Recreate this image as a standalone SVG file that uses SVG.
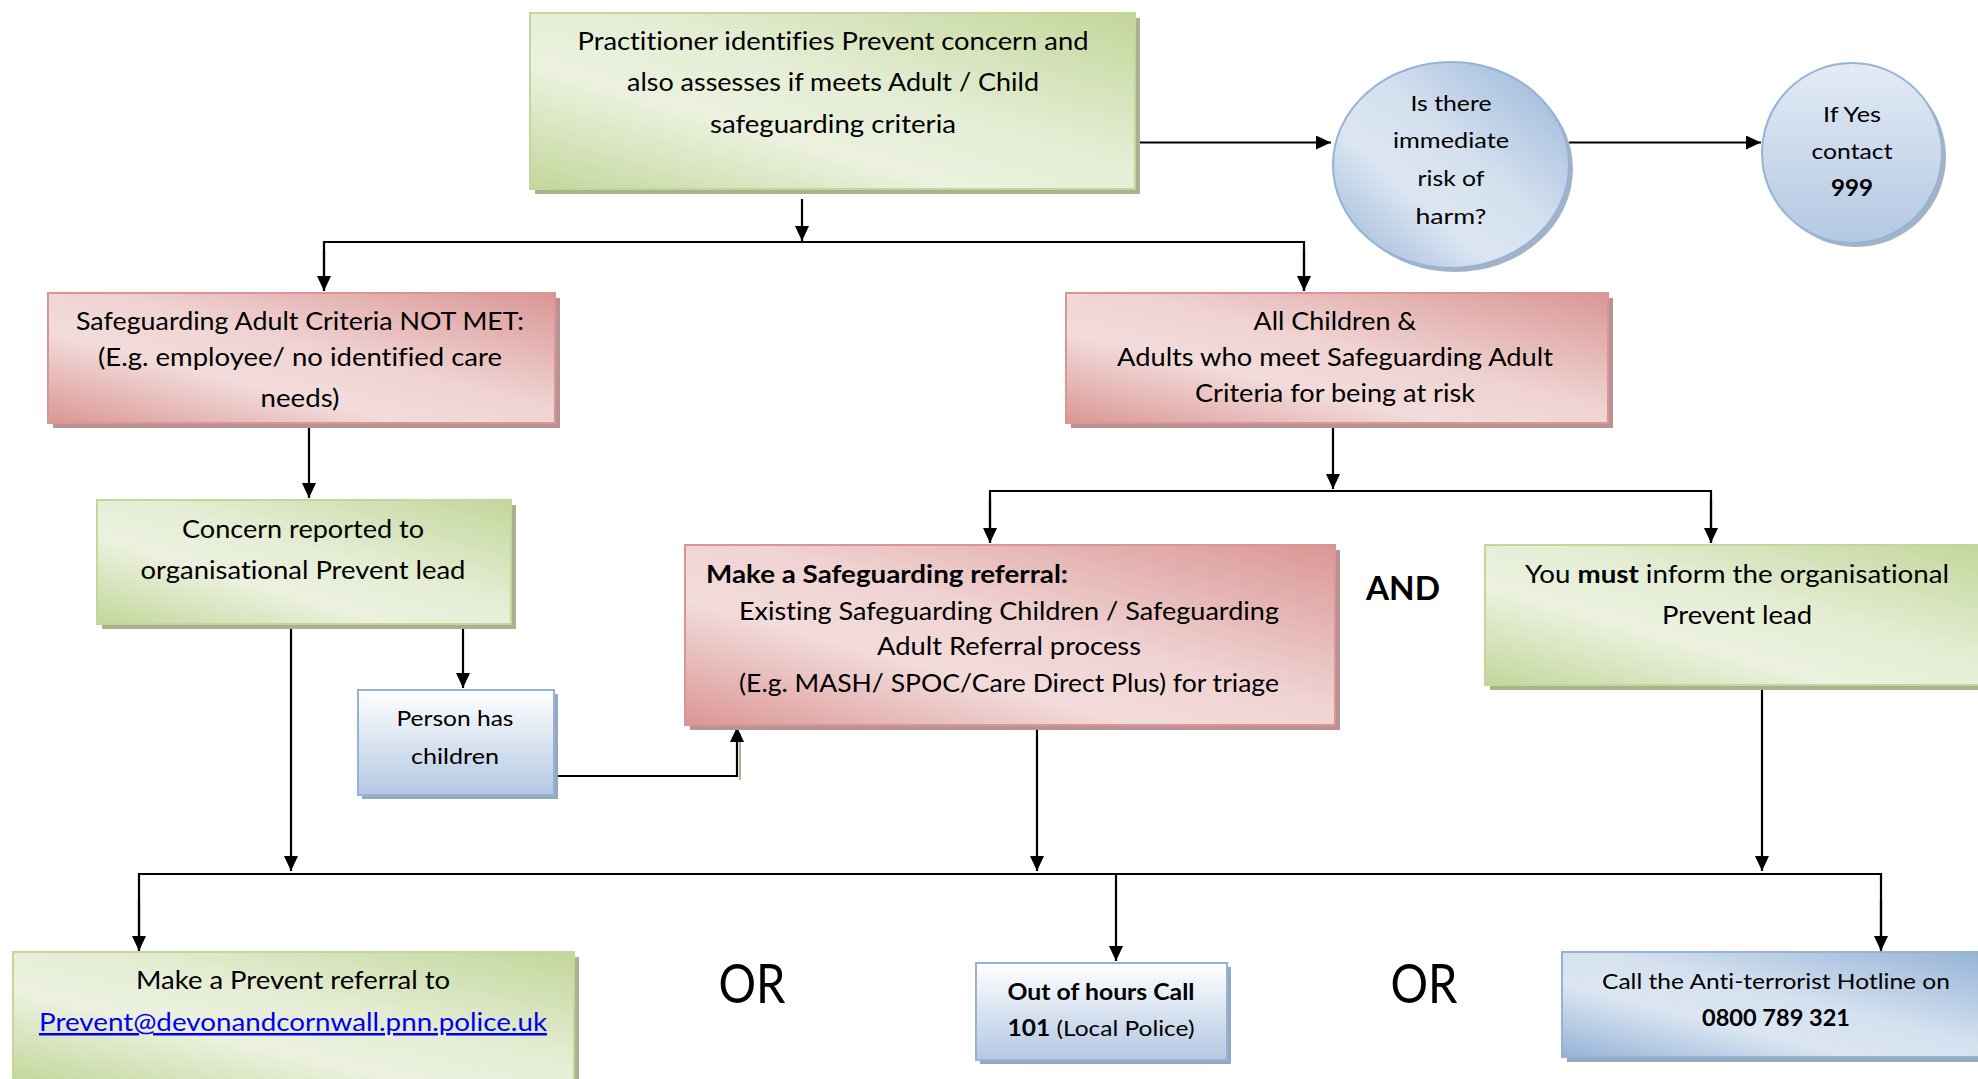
<svg xmlns="http://www.w3.org/2000/svg" width="1978" height="1079" viewBox="0 0 1978 1079">
<defs>
<style>
text{font-family:Lato,"Liberation Sans",sans-serif;fill:#000;text-anchor:middle;font-variant-ligatures:none}
.t25{font-size:25px}
.t22{font-size:22px}
.b{font-weight:bold}
.link{fill:#0000ee;text-decoration:underline}
.or{font-size:54px}
.conn{fill:none;stroke:#000;stroke-width:2.2}
.gs{fill:#a9b28f}
.rs{fill:#b99293}
.bs{fill:#97a7bd}
.g{fill:url(#gG);stroke:#c3d69b;stroke-width:2}
.r{fill:url(#gR);stroke:#d99694;stroke-width:2}
.bl{fill:url(#gB);stroke:#95b3d7;stroke-width:2}
.bv{fill:url(#gBV);stroke:#95b3d7;stroke-width:2}
</style>
<linearGradient id="gG" x1="0" y1="1" x2="1" y2="0">
<stop offset="0" stop-color="#c3d69b"/>
<stop offset="0.35" stop-color="#ebf1de"/>
<stop offset="0.55" stop-color="#e6eed6"/>
<stop offset="1" stop-color="#c3d69b"/>
</linearGradient>
<linearGradient id="gR" x1="0" y1="1" x2="1" y2="0">
<stop offset="0" stop-color="#da9694"/>
<stop offset="0.35" stop-color="#f2dcdb"/>
<stop offset="0.55" stop-color="#efd3d2"/>
<stop offset="1" stop-color="#da9694"/>
</linearGradient>
<linearGradient id="gB" x1="0" y1="1" x2="1" y2="0">
<stop offset="0" stop-color="#95b3d7"/>
<stop offset="0.35" stop-color="#dce6f2"/>
<stop offset="0.55" stop-color="#d5e1ef"/>
<stop offset="1" stop-color="#95b3d7"/>
</linearGradient>
<linearGradient id="gBV" x1="0" y1="0" x2="0" y2="1">
<stop offset="0" stop-color="#ffffff"/>
<stop offset="1" stop-color="#b3c8e2"/>
</linearGradient>
<linearGradient id="gC2" x1="0" y1="0" x2="0" y2="1">
<stop offset="0" stop-color="#e3ebf5"/>
<stop offset="1" stop-color="#b3c8e2"/>
</linearGradient>
<marker id="ah" markerUnits="userSpaceOnUse" markerWidth="16" markerHeight="14" refX="15" refY="7" orient="auto">
<path d="M0,0 L15,7 L0,14 z" fill="#000"/>
</marker>
</defs>

<g id="connectors">
<path class="conn" d="M1135,142.5 H1331" marker-end="url(#ah)"/>
<path class="conn" d="M1569,142.5 H1761" marker-end="url(#ah)"/>
<path class="conn" d="M802,199 V241" marker-end="url(#ah)"/>
<path class="conn" d="M324,291 V242 H1304 V291"/>
<path class="conn" d="M324,250 V291" marker-end="url(#ah)"/>
<path class="conn" d="M1304,250 V291" marker-end="url(#ah)"/>
<path class="conn" d="M309,423 V498" marker-end="url(#ah)"/>
<path class="conn" d="M1333,423 V489" marker-end="url(#ah)"/>
<path class="conn" d="M990,543 V491 H1711 V543"/>
<path class="conn" d="M990,500 V543" marker-end="url(#ah)"/>
<path class="conn" d="M1711,500 V543" marker-end="url(#ah)"/>
<path class="conn" d="M463,624 V688" marker-end="url(#ah)"/>
<path d="M740,780 V733" fill="none" stroke="#a8b88e" stroke-width="2"/>
<path class="conn" d="M554,776 H737 V727" marker-end="url(#ah)"/>
<path class="conn" d="M291,624 V871" marker-end="url(#ah)"/>
<path class="conn" d="M1037,725 V871" marker-end="url(#ah)"/>
<path class="conn" d="M1762,690 V871" marker-end="url(#ah)"/>
<path class="conn" d="M139,950 V874 H1881 V950"/>
<path class="conn" d="M139,900 V951" marker-end="url(#ah)"/>
<path class="conn" d="M1116,874 V961" marker-end="url(#ah)"/>
<path class="conn" d="M1881,900 V951" marker-end="url(#ah)"/>
</g>

<g id="n-practitioner">
<rect class="gs" x="535" y="18" width="605" height="176"/>
<rect class="g" x="530" y="13" width="605" height="176"/>
<text class="t25" x="833" y="50" textLength="511" lengthAdjust="spacingAndGlyphs">Practitioner identifies Prevent concern and</text>
<text class="t25" x="833" y="91" textLength="412" lengthAdjust="spacingAndGlyphs">also assesses if meets Adult / Child</text>
<text class="t25" x="833" y="133" textLength="246" lengthAdjust="spacingAndGlyphs">safeguarding criteria</text>
</g>

<g id="n-risk">
<ellipse cx="1455" cy="169" rx="118" ry="103" fill="#a4b2c6"/>
<ellipse cx="1451" cy="165" rx="118" ry="103" class="bl"/>
<text class="t22" x="1451" y="111" textLength="81" lengthAdjust="spacingAndGlyphs">Is there</text>
<text class="t22" x="1451" y="148" textLength="116" lengthAdjust="spacingAndGlyphs">immediate</text>
<text class="t22" x="1451" y="186" textLength="67" lengthAdjust="spacingAndGlyphs">risk of</text>
<text class="t22" x="1451" y="224" textLength="71" lengthAdjust="spacingAndGlyphs">harm?</text>
</g>

<g id="n-999">
<circle cx="1856" cy="157" r="90" fill="#a4b2c6"/>
<circle cx="1852" cy="153" r="90" fill="url(#gC2)" stroke="#95b3d7" stroke-width="2"/>
<text class="t22" x="1852" y="122" textLength="58" lengthAdjust="spacingAndGlyphs">If Yes</text>
<text class="t22" x="1852" y="159" textLength="81" lengthAdjust="spacingAndGlyphs">contact</text>
<text class="t22 b" x="1852" y="196" textLength="42" lengthAdjust="spacingAndGlyphs">999</text>
</g>

<g id="n-notmet">
<rect class="rs" x="53" y="298" width="507" height="130"/>
<rect class="r" x="48" y="293" width="507" height="130"/>
<text class="t25" x="300" y="330" textLength="448" lengthAdjust="spacingAndGlyphs">Safeguarding Adult Criteria NOT MET:</text>
<text class="t25" x="300" y="366" textLength="404" lengthAdjust="spacingAndGlyphs">(E.g. employee/ no identified care</text>
<text class="t25" x="300" y="407" textLength="79" lengthAdjust="spacingAndGlyphs">needs)</text>
</g>

<g id="n-allchildren">
<rect class="rs" x="1071" y="298" width="542" height="130"/>
<rect class="r" x="1066" y="293" width="542" height="130"/>
<text class="t25" x="1335" y="330" textLength="163" lengthAdjust="spacingAndGlyphs">All Children &amp;</text>
<text class="t25" x="1335" y="366" textLength="436" lengthAdjust="spacingAndGlyphs">Adults who meet Safeguarding Adult</text>
<text class="t25" x="1335" y="402" textLength="280" lengthAdjust="spacingAndGlyphs">Criteria for being at risk</text>
</g>

<g id="n-concern">
<rect class="gs" x="102" y="505" width="414" height="124"/>
<rect class="g" x="97" y="500" width="414" height="124"/>
<text class="t25" x="303" y="538" textLength="242" lengthAdjust="spacingAndGlyphs">Concern reported to</text>
<text class="t25" x="303" y="579" textLength="325" lengthAdjust="spacingAndGlyphs">organisational Prevent lead</text>
</g>

<g id="n-safeguarding-referral">
<rect class="rs" x="690" y="550" width="650" height="180"/>
<rect class="r" x="685" y="545" width="650" height="180"/>
<text class="t25 b" x="706" y="583" style="text-anchor:start" textLength="362" lengthAdjust="spacingAndGlyphs">Make a Safeguarding referral:</text>
<text class="t25" x="1009" y="620" textLength="540" lengthAdjust="spacingAndGlyphs">Existing Safeguarding Children / Safeguarding</text>
<text class="t25" x="1009" y="655" textLength="264" lengthAdjust="spacingAndGlyphs">Adult Referral process</text>
<text class="t25" x="1009" y="692" textLength="540" lengthAdjust="spacingAndGlyphs">(E.g. MASH/ SPOC/Care Direct Plus) for triage</text>
</g>

<g id="label-and">
<text class="b" x="1403" y="600" style="font-size:32px" textLength="74" lengthAdjust="spacingAndGlyphs">AND</text>
</g>

<g id="n-inform">
<rect class="gs" x="1490" y="550" width="500" height="140"/>
<rect class="g" x="1485" y="545" width="500" height="140"/>
<text class="t25" x="1737" y="583" textLength="424" lengthAdjust="spacingAndGlyphs">You <tspan class="b">must</tspan> inform the organisational</text>
<text class="t25" x="1737" y="624" textLength="150" lengthAdjust="spacingAndGlyphs">Prevent lead</text>
</g>

<g id="n-children">
<rect class="bs" x="362" y="694" width="196" height="105"/>
<rect class="bv" x="358" y="690" width="196" height="105"/>
<text class="t22" x="455" y="726" textLength="117" lengthAdjust="spacingAndGlyphs">Person has</text>
<text class="t22" x="455" y="764" textLength="88" lengthAdjust="spacingAndGlyphs">children</text>
</g>

<g id="n-prevent-referral">
<rect class="gs" x="18" y="957" width="561" height="130"/>
<rect class="g" x="13" y="952" width="561" height="130"/>
<text class="t25" x="293" y="989" textLength="314" lengthAdjust="spacingAndGlyphs">Make a Prevent referral to</text>
<text class="t25 link" x="293" y="1031" textLength="508" lengthAdjust="spacingAndGlyphs">Prevent@devonandcornwall.pnn.police.uk</text>
</g>

<g id="label-or1">
<text class="or" x="752" y="1003" textLength="67" lengthAdjust="spacingAndGlyphs">OR</text>
</g>

<g id="n-outofhours">
<rect class="bs" x="980" y="967" width="251" height="97"/>
<rect class="bv" x="976" y="963" width="251" height="97"/>
<text class="t22 b" x="1101" y="1000" textLength="187" lengthAdjust="spacingAndGlyphs">Out of hours Call</text>
<text class="t22" x="1101" y="1036" textLength="187" lengthAdjust="spacingAndGlyphs"><tspan class="b">101</tspan> (Local Police)</text>
</g>

<g id="label-or2">
<text class="or" x="1424" y="1003" textLength="67" lengthAdjust="spacingAndGlyphs">OR</text>
</g>

<g id="n-hotline">
<rect class="bs" x="1567" y="957" width="420" height="105"/>
<rect class="bl" x="1562" y="952" width="420" height="105"/>
<text class="t22" x="1776" y="989" textLength="348" lengthAdjust="spacingAndGlyphs">Call the Anti-terrorist Hotline on</text>
<text class="t22 b" x="1776" y="1026" textLength="148" lengthAdjust="spacingAndGlyphs">0800 789 321</text>
</g>
</svg>
